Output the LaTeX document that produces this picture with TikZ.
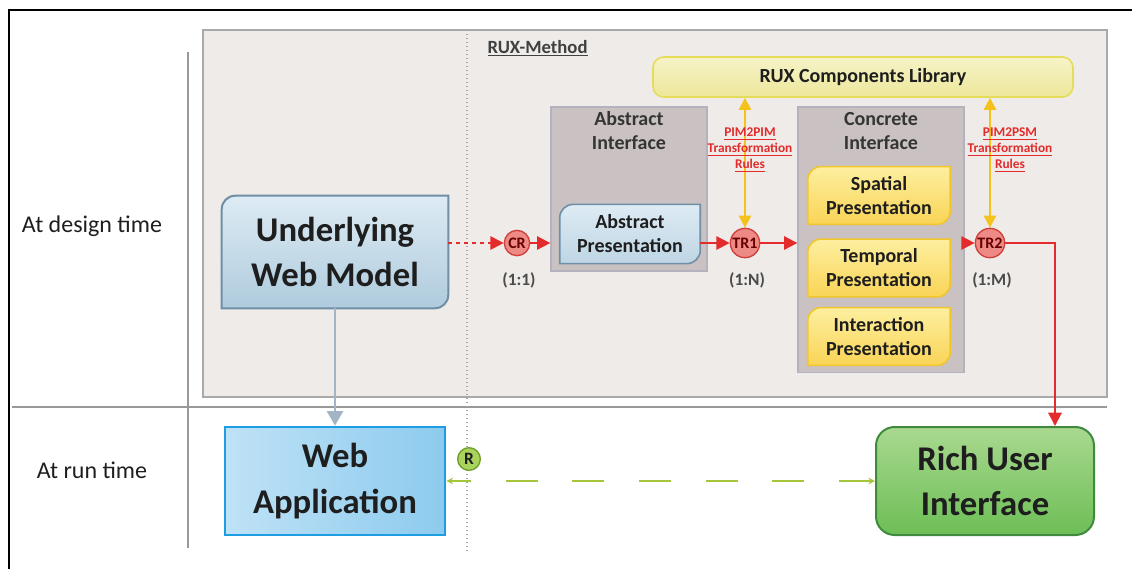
\documentclass[tikz,border=0pt]{standalone}
\usepackage{fontspec}
\setmainfont{Carlito}
\usepackage{tikz}
\usetikzlibrary{arrows.meta}
\definecolor{panelfill}{HTML}{EEEBE9}
\definecolor{paneldraw}{HTML}{A9A9A9}
\definecolor{ifacefill}{HTML}{CAC2C2}
\definecolor{ifacedraw}{HTML}{B4B2BE}
\definecolor{modeltop}{HTML}{DDEBF4}
\definecolor{modelbot}{HTML}{AFCBDD}
\definecolor{modeldraw}{HTML}{6F8FA6}
\definecolor{prestop}{HTML}{FDEFA0}
\definecolor{presbot}{HTML}{F9D456}
\definecolor{presdraw}{HTML}{F2C62A}
\definecolor{libtop}{HTML}{F6F3C8}
\definecolor{libbot}{HTML}{EDE79A}
\definecolor{libdraw}{HTML}{E5DD5A}
\definecolor{apptop}{HTML}{BFE2F6}
\definecolor{appbot}{HTML}{8CCBEE}
\definecolor{appdraw}{HTML}{1F9DE2}
\definecolor{ruitop}{HTML}{A9D98F}
\definecolor{ruibot}{HTML}{6DBE56}
\definecolor{ruidraw}{HTML}{3F8A3F}
\definecolor{rulefill}{HTML}{EE8A85}
\definecolor{ruledraw}{HTML}{D0403A}
\definecolor{reusefill}{HTML}{A9D35A}
\definecolor{reusedraw}{HTML}{6E9E2C}
\definecolor{redline}{HTML}{E32B2B}
\definecolor{yellowline}{HTML}{F4C21B}
\definecolor{grayline}{HTML}{A3B5C4}
\definecolor{greenline}{HTML}{A5C63B}
\definecolor{darktext}{HTML}{1E1E1E}
\tikzstyle{outerframe}=[line width=1.5pt, draw=black]
\tikzstyle{separator}=[line width=1.5pt, draw=gray!80]
\tikzstyle{Panel}=[minimum width=678pt, minimum height=275.25pt, fill=panelfill, draw=paneldraw, line width=1.2pt, inner sep=0pt]
\tikzstyle{Interface}=[minimum width=117pt, minimum height=123pt, fill=ifacefill, draw=ifacedraw, line width=1pt, inner sep=0pt]
\tikzstyle{IfaceTitle}=[align=center, text=darktext!90, font=\fontsize{15}{18}\selectfont\bfseries]
\tikzstyle{ModelText}=[align=center, minimum width=169.5pt, minimum height=84pt, inner sep=0pt, text=darktext, font=\fontsize{26}{34}\selectfont\bfseries]
\tikzstyle{ModelShape}=[top color=modeltop, bottom color=modelbot, draw=modeldraw, line width=1.5pt]
\tikzstyle{PresText}=[align=center, minimum width=106.5pt, minimum height=43pt, inner sep=0pt, text=darktext, font=\fontsize{15}{18}\selectfont\bfseries]
\tikzstyle{AbsShape}=[top color=modeltop, bottom color=modelbot!80, draw=modeldraw, line width=1.2pt]
\tikzstyle{PresShape}=[top color=prestop, bottom color=presbot, draw=presdraw, line width=1.2pt]
\tikzstyle{Library}=[minimum width=315pt, minimum height=30pt, rounded corners=8pt, top color=libtop, bottom color=libbot, draw=libdraw, line width=1.2pt, text=darktext, font=\fontsize{15}{18}\selectfont\bfseries]
\tikzstyle{AppBox}=[align=center, minimum width=165pt, minimum height=81pt, left color=apptop, right color=appbot, draw=appdraw, line width=2pt, text=darktext, font=\fontsize{26}{34}\selectfont\bfseries]
\tikzstyle{RuiBox}=[align=center, minimum width=163.5pt, minimum height=81pt, rounded corners=14pt, top color=ruitop, bottom color=ruibot, draw=ruidraw, line width=1.5pt, text=darktext, font=\fontsize{26}{34}\selectfont\bfseries]
\tikzstyle{Rule}=[shape=circle, minimum size=22pt, inner sep=0pt, fill=rulefill, draw=ruledraw, line width=1pt, text=red!40!black, font=\fontsize{12}{12}\selectfont\bfseries]
\tikzstyle{Reuse}=[shape=circle, minimum size=17pt, inner sep=0pt, fill=reusefill, draw=reusedraw, line width=1pt, text=darktext, font=\fontsize{13}{13}\selectfont\bfseries]
\tikzstyle{Ratio}=[text=darktext!80, font=\fontsize{13}{14}\selectfont\bfseries]
\tikzstyle{RuleLabel}=[align=center, text=redline, font=\fontsize{10}{12}\selectfont\bfseries]
\tikzstyle{TimeLabel}=[text=darktext, font=\fontsize{18}{20}\selectfont]
\tikzstyle{MethodLabel}=[anchor=west, text=darktext!85, font=\fontsize{14}{16}\selectfont\bfseries]
\tikzstyle{redarrow}=[-{Triangle[length=10pt, width=10pt]}, line width=1.5pt, draw=redline]
\tikzstyle{yellowarrow}=[{Triangle[length=9pt, width=9pt]}-{Triangle[length=9pt, width=9pt]}, line width=1.8pt, draw=yellowline]
\tikzstyle{grayarrow}=[-{Triangle[length=11pt, width=12pt]}, line width=2.2pt, draw=grayline]
\tikzstyle{greenarrow}=[{Stealth[length=5pt, width=5pt]}-{Stealth[length=5pt, width=5pt]}, line width=2.2pt, draw=greenline, dash pattern=on 24pt off 26pt]
% box with rounded top left and bottom right corners
\newcommand{\tabshape}[2]{%
  \draw [style=#1] (#2.south west) -- ([yshift=-10pt]#2.north west)
    arc [start angle=180, end angle=90, radius=10pt] -- (#2.north east)
    -- ([yshift=10pt]#2.south east)
    arc [start angle=0, end angle=-90, radius=10pt] -- cycle;}
\pgfdeclarelayer{panellayer}
\pgfdeclarelayer{nodelayer}
\pgfdeclarelayer{edgelayer}
\pgfsetlayers{panellayer, main, nodelayer, edgelayer}

\begin{document}
\begin{tikzpicture}[x=0.75pt, y=-0.75pt]
	\useasboundingbox (0,0) rectangle (1132,569);
	\begin{pgfonlayer}{panellayer}
		\draw [style=outerframe] (9,569) -- (9,10) -- (1132,10);
		\node [style=Panel] (panel) at (655,213.5) {};
		\draw [style=separator] (188,52) -- (188,548);
		\draw [style=separator] (12,407) -- (1107,407);
		\draw [gray!70, line width=1pt, dash pattern=on 1pt off 2pt] (467,30) -- (467,552);
		\node [style=Interface] (absint) at (629,189) {};
		\node [style=Interface, minimum height=199pt, minimum width=124.5pt] (conint) at (881,239.5) {};
	\end{pgfonlayer}
	\begin{pgfonlayer}{nodelayer}
		\node [style=TimeLabel] (design) at (92,226) {At design time};
		\node [style=TimeLabel] (run) at (92,470) {At run time};
		\node [style=MethodLabel] (method) at (483,48) {\underline{RUX-Method}};
		\node [style=Library] (library) at (863,77) {RUX Components Library};
		\node [style=ModelText] (model) at (335,252) {Underlying\\Web Model};
		\node [style=IfaceTitle] (absint title) at (629,131) {Abstract\\Interface};
		\node [style=PresText, minimum width=105pt, minimum height=44pt] (abspres) at (630,234) {Abstract\\Presentation};
		\node [style=IfaceTitle] (conint title) at (881,131) {Concrete\\Interface};
		\node [style=PresText] (spatial) at (879,195.5) {Spatial\\Presentation};
		\node [style=PresText] (temporal) at (879,268) {Temporal\\Presentation};
		\node [style=PresText] (interaction) at (879,336.5) {Interaction\\Presentation};
		\node [style=Rule, minimum size=19pt] (CR) at (517,243) {CR};
		\node [style=Rule] (TR1) at (745,243) {TR1};
		\node [style=Rule] (TR2) at (990,243) {TR2};
		\node [style=Ratio] (CR ratio) at (519,280) {(1:1)};
		\node [style=Ratio] (TR1 ratio) at (747,280) {(1:N)};
		\node [style=Ratio] (TR2 ratio) at (992,280) {(1:M)};
		\node [style=AppBox] (webapp) at (335,481) {Web\\Application};
		\node [style=RuiBox] (rui) at (985,481) {Rich User\\Interface};
		\node [style=Reuse] (R) at (469,459) {R};
	\end{pgfonlayer}
	\tabshape{ModelShape}{model}
	\tabshape{AbsShape}{abspres}
	\tabshape{PresShape}{spatial}
	\tabshape{PresShape}{temporal}
	\tabshape{PresShape}{interaction}
	\begin{pgfonlayer}{edgelayer}
		\draw [style=redarrow, dash pattern=on 3pt off 3pt] (model.east |- CR) -- (CR);
		\draw [style=redarrow] (CR) -- (absint.west |- CR);
		\draw [style=redarrow] (abspres.east |- TR1) -- (TR1);
		\draw [style=redarrow] (TR1) -- (conint.west |- TR1);
		\draw [style=redarrow] (conint.east |- TR2) -- (TR2);
		\draw [style=redarrow] (TR2) -| ([xshift=52.5pt]rui.north);
		% transformation rules
		\draw [style=yellowarrow] (library.south -| TR1) -- (TR1);
		\draw [style=yellowarrow] (library.south -| TR2) -- (TR2);
		\node [style=RuleLabel] (TR1 rules) at (750,150) {\underline{PIM2PIM}\\\underline{Transformation}\\\underline{Rules}};
		\node [style=RuleLabel] (TR2 rules) at (1010,150) {\underline{PIM2PSM}\\\underline{Transformation}\\\underline{Rules}};
		% run time
		\draw [style=grayarrow] (model) -- (webapp);
		\draw [style=greenarrow] (rui) -- (webapp);
	\end{pgfonlayer}
\end{tikzpicture}
\end{document}
